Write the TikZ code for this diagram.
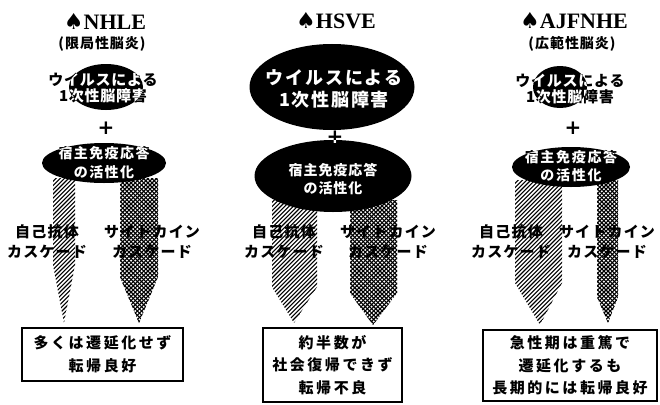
\documentclass[tikz,border=0pt]{standalone}
\usepackage{fontspec}
\usetikzlibrary{shapes.geometric}
\newfontfamily\jp{Noto Sans CJK JP}
\newfontfamily\ttl{Liberation Serif}
\newfontfamily\dvs{DejaVu Sans}
\newcommand\spd{{\dvs\fontsize{22}{24}\selectfont ♠}}
\newcommand\jpf[3]{\jp\bfseries\fontsize{#1}{#2}\selectfont\addfontfeatures{LetterSpace=#3}}
% column: x1, x2, ytop, ytaper, xtip, ytip
\newcommand\colshape[6]{(#1,#3) -- (#2,#3) -- (#2,#4) -- (#5,#6) -- (#1,#4) -- cycle}
\newcommand\lhatch[6]{%
  \begin{scope}
    \clip \colshape{#1}{#2}{#3}{#4}{#5}{#6};
    \foreach \k in {0,4.2,...,300} \draw[hline] (#1-150+\k,#6) -- ++(150,-150);
  \end{scope}}
\newcommand\xhatch[6]{%
  \begin{scope}
    \clip \colshape{#1}{#2}{#3}{#4}{#5}{#6};
    \foreach \k in {0,4.2,...,300} {
      \draw[hline] (#1-150+\k,#6) -- ++(150,-150);
      \draw[hline] (#1+\k,#6) -- ++(-150,-150);
    }
  \end{scope}}
\begin{document}
\begin{tikzpicture}[x=1pt,y=-1pt,
  title/.style={font=\ttl\bfseries\fontsize{22}{24}\selectfont, inner sep=0pt},
  sub/.style={font=\jpf{14}{16}{7}, inner sep=0pt},
  blob/.style={ellipse, fill=black, inner sep=0pt},
  inv/.style={text=white, blend mode=difference, align=center, inner sep=0pt},
  lbl/.style={font=\jpf{15}{20}{8}, align=center, inner sep=0pt},
  res/.style={draw, line width=1.8pt, align=center, font=\jpf{15}{22.5}{17}, inner sep=0pt},
  hline/.style={line width=1.1pt}]
\path[use as bounding box, fill=white] (0,0) rectangle (660,404);

% hatched columns
\lhatch{53}{75}{178}{265}{64}{323}
\xhatch{120}{158}{178}{277}{139}{323}
\lhatch{272}{317}{200}{287}{294}{323}
\xhatch{350}{397}{200}{293}{373}{325}
\lhatch{515}{562}{180}{283}{540}{325}
\xhatch{597}{618}{180}{297}{608}{323}

% ellipses
\node[blob, minimum width=74pt, minimum height=46pt] (e1a) at (106,87) {};
\node[blob, minimum width=124pt, minimum height=40pt] (e1b) at (104,163) {};
\node[blob, minimum width=165pt, minimum height=86pt] (e2a) at (332,87) {};
\node[blob, minimum width=157pt, minimum height=72pt] (e2b) at (333,176) {};
\node[blob, minimum width=54pt, minimum height=42pt] (e3a) at (560,87) {};
\node[blob, minimum width=118pt, minimum height=40pt] (e3b) at (571,167) {};

% inverted texts
\node[inv, font=\jpf{15}{16}{5}] (w1) at (103,88) {ウイルスによる\\1次性脳障害};
\node[inv, font=\jpf{14}{19}{10}] (i1) at (104,163) {宿主免疫応答\\の活性化};
\node[inv, font=\jpf{18}{22}{10}] (w2) at (334,89) {ウイルスによる\\1次性脳障害};
\node[inv, font=\jpf{14}{18}{7}] (i2) at (333,179) {宿主免疫応答\\の活性化};
\node[inv, font=\jpf{15}{16}{5}] (w3) at (570,89) {ウイルスによる\\1次性脳障害};
\node[inv, font=\jpf{14}{18}{12}] (i3) at (571,166) {宿主免疫応答\\の活性化};

% plus signs
\node[inv, font=\dvs\bfseries\fontsize{20}{20}\selectfont] (p1) at (106,128) {+};
\node[inv, font=\dvs\bfseries\fontsize{20}{20}\selectfont] (p2) at (335,137) {+};
\node[inv, font=\dvs\bfseries\fontsize{20}{20}\selectfont] (p3) at (573,128) {+};

% labels
\node[lbl] (a1) at (47,242) {自己抗体\\カスケード};
\node[lbl] (b1) at (152,242) {サイトカイン\\カスケード};
\node[lbl] (a2) at (284,242) {自己抗体\\カスケード};
\node[lbl] (b2) at (388,242) {サイトカイン\\カスケード};
\node[lbl] (a3) at (511,242) {自己抗体\\カスケード};
\node[lbl] (b3) at (607,242) {サイトカイン\\カスケード};

% result boxes
\node[res, minimum width=161pt, minimum height=53pt] (r1) at (102.5,354.5) {多くは遷延化せず\\転帰良好};
\node[res, minimum width=139pt, minimum height=74pt] (r2) at (332.5,365) {約半数が\\社会復帰できず\\転帰不良};
\node[res, minimum width=174pt, minimum height=71pt] (r3) at (570,365.5) {急性期は重篤で\\遷延化するも\\長期的には転帰良好};

% titles
\node[title] (t1) at (105,21) {\spd NHLE};
\node[sub] (s1) at (102,44) {(限局性脳炎)};
\node[title] (t2) at (336,21) {\spd HSVE};
\node[title] (t3) at (574,21) {\spd AJFNHE};
\node[sub] (s3) at (572,44) {(広範性脳炎)};
\end{tikzpicture}
\end{document}
